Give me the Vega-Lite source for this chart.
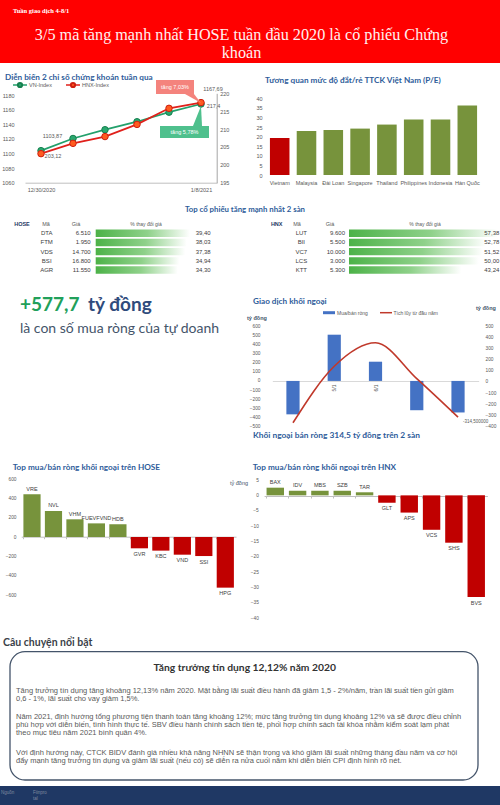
{
"$schema":"https://vega.github.io/schema/vega-lite/v6.json",
"width":500,"height":805,"padding":0,"autosize":"none","background":"#ffffff",
"config":{"font":"Liberation Sans","view":{"stroke":null},"axis":{"grid":false,"ticks":false,"domain":false,"labelFont":"Liberation Sans","labelFontSize":5.5,"labelColor":"#595959","labelPadding":2}},
"resolve":{"scale":{"x":"independent","y":"independent"},"axis":{"x":"independent","y":"independent"}},
"layer":[
{"data":{"values":[{"k":"header"}]},"mark":{"type":"rect","color":"#ff0000"},"encoding":{"x":{"value":0},"x2":{"value":500},"y":{"value":0},"y2":{"value":63}}},
{"data":{"values":[{"t":"Tuần giao dịch 4-8/1"}]},"mark":{"type":"text","align":"left","baseline":"middle","font":"Liberation Serif","fontWeight":"bold","fontSize":6.5,"color":"#ffffff"},"encoding":{"text":{"field":"t"},"x":{"value":13},"y":{"value":11}}},
{"data":{"values":[{"t":"3/5 mã tăng mạnh nhất HOSE tuần đầu 2020 là cổ phiếu Chứng\nkhoán"}]},"mark":{"type":"text","align":"center","baseline":"middle","lineBreak":"\n","lineHeight":18,"font":"Liberation Serif","fontSize":16.2,"color":"#fff0f0"},"encoding":{"text":{"field":"t"},"x":{"value":241.5},"y":{"value":34.5}}},

{"data":{"values":[{"t":"Diễn biến 2 chỉ số chứng khoán tuần qua"}]},"mark":{"type":"text","align":"left","baseline":"middle","font":"Lato","fontWeight":"bold","fontSize":8.2,"color":"#2e5c9a"},"encoding":{"text":{"field":"t"},"x":{"value":5},"y":{"value":78}}},
{"data":{"values":[{"s":"VN-Index"}]},"mark":{"type":"rule","color":"#23a06c","strokeWidth":1.5},"encoding":{"x":{"value":13},"x2":{"value":27},"y":{"value":85}}},
{"data":{"values":[{"s":"VN-Index"}]},"mark":{"type":"point","filled":true,"fill":"#2aa86f","stroke":"#17804f","size":18,"opacity":1},"encoding":{"x":{"value":20},"y":{"value":85}}},
{"data":{"values":[{"s":"VN-Index"}]},"mark":{"type":"text","align":"left","baseline":"middle","fontSize":5.5,"color":"#595959"},"encoding":{"text":{"field":"s"},"x":{"value":29},"y":{"value":85}}},
{"data":{"values":[{"s":"HNX-Index"}]},"mark":{"type":"rule","color":"#e0201b","strokeWidth":1.5},"encoding":{"x":{"value":66},"x2":{"value":80},"y":{"value":85}}},
{"data":{"values":[{"s":"HNX-Index"}]},"mark":{"type":"point","filled":true,"fill":"#ff5b1f","stroke":"#cf1f10","size":18,"opacity":1},"encoding":{"x":{"value":73},"y":{"value":85}}},
{"data":{"values":[{"s":"HNX-Index"}]},"mark":{"type":"text","align":"left","baseline":"middle","fontSize":5.5,"color":"#595959"},"encoding":{"text":{"field":"s"},"x":{"value":82},"y":{"value":85}}},

{"data":{"values":[
 {"d":"12/30/2020","vn":1103.87,"hnx":203.12,"vl":"1103,87","hl":"203,12"},
 {"d":"1/4/2021","vn":1120.5,"hnx":206.0},
 {"d":"1/5/2021","vn":1132.5,"hnx":207.9},
 {"d":"1/6/2021","vn":1143.4,"hnx":211.3},
 {"d":"1/7/2021","vn":1156.5,"hnx":215.8},
 {"d":"1/8/2021","vn":1167.69,"hnx":217.4,"vl":"1167,69","hl":"217,4"}]},
 "encoding":{"x":{"field":"d","type":"ordinal","sort":null,"scale":{"type":"point","range":[25,217],"padding":0.5},"axis":{"orient":"bottom","offset":-622.3,"values":["12/30/2020","1/8/2021"],"labelAngle":0,"domain":true,"domainColor":"#bfbfbf","labelPadding":5,"title":null}}},
 "resolve":{"scale":{"y":"independent"},"axis":{"y":"independent"}},
 "layer":[
  {"encoding":{"y":{"field":"vn","type":"quantitative","scale":{"domain":[1060,1180],"range":[182.7,95],"nice":false,"zero":false},"axis":{"orient":"left","offset":-16,"format":"d","values":[1060,1080,1100,1120,1140,1160,1180],"title":null}}},
   "layer":[
    {"mark":{"type":"line","color":"#23a06c","strokeWidth":1.8}},
    {"mark":{"type":"point","filled":true,"fill":"#2aa86f","stroke":"#17804f","strokeWidth":1,"size":42,"opacity":1}},
    {"transform":[{"filter":"datum.d==='12/30/2020'"}],"mark":{"type":"text","fontSize":5.5,"color":"#595959","dx":11.5,"dy":-15},"encoding":{"text":{"field":"vl"}}},
    {"transform":[{"filter":"datum.d==='1/8/2021'"}],"mark":{"type":"text","fontSize":5.5,"color":"#595959","dx":12,"dy":-14.5},"encoding":{"text":{"field":"vl"}}}
   ]},
  {"encoding":{"y":{"field":"hnx","type":"quantitative","scale":{"domain":[195,220],"range":[182.7,93.3],"nice":false,"zero":false},"axis":{"orient":"right","offset":-283.3,"values":[195,200,205,210,215,220],"domain":true,"domainColor":"#a6a6a6","labelPadding":3,"title":null}}},
   "layer":[
    {"mark":{"type":"line","color":"#e0201b","strokeWidth":1.8}},
    {"mark":{"type":"point","filled":true,"fill":"#ff5b1f","stroke":"#cf1f10","strokeWidth":1,"size":42,"opacity":1}},
    {"transform":[{"filter":"datum.d==='12/30/2020'"}],"mark":{"type":"text","fontSize":5.5,"color":"#595959","dx":12,"dy":2.5},"encoding":{"text":{"field":"hl"}}},
    {"transform":[{"filter":"datum.d==='1/8/2021'"}],"mark":{"type":"text","fontSize":5.5,"color":"#595959","dx":12.5,"dy":3},"encoding":{"text":{"field":"hl"}}}
   ]}
 ]},

{"data":{"values":[{"t":"tăng 7,03%"}]},"mark":{"type":"rect","color":"#f4837d"},"encoding":{"x":{"value":156},"x2":{"value":194},"y":{"value":80},"y2":{"value":94}}},
{"data":{"values":[{"t":"tăng 7,03%"}]},"mark":{"type":"point","shape":"M-1,-0.5625L0.125,-0.5625L1,0.5625Z","filled":true,"color":"#f4837d","opacity":1,"size":256},"encoding":{"x":{"value":193},"y":{"value":98.5}}},
{"data":{"values":[{"t":"tăng 7,03%"}]},"mark":{"type":"text","align":"center","baseline":"middle","fontSize":5.5,"color":"#ffffff"},"encoding":{"text":{"field":"t"},"x":{"value":175},"y":{"value":87}}},
{"data":{"values":[{"t":"tăng 5,78%"}]},"mark":{"type":"rect","color":"#4fc08d"},"encoding":{"x":{"value":160},"x2":{"value":209},"y":{"value":126},"y2":{"value":138}}},
{"data":{"values":[{"t":"tăng 5,78%"}]},"mark":{"type":"point","shape":"M-0.4,1L0.5,1L0.4,-1Z","filled":true,"color":"#4fc08d","opacity":1,"size":400},"encoding":{"x":{"value":197},"y":{"value":116}}},
{"data":{"values":[{"t":"tăng 5,78%"}]},"mark":{"type":"text","align":"center","baseline":"middle","fontSize":5.5,"color":"#ffffff"},"encoding":{"text":{"field":"t"},"x":{"value":184.5},"y":{"value":132}}},

{"data":{"values":[{"t":"Tương quan  mức độ đắt/rẻ TTCK Việt Nam (P/E)"}]},"mark":{"type":"text","align":"left","baseline":"middle","font":"Lato","fontWeight":"bold","fontSize":8.2,"color":"#2e5c9a"},"encoding":{"text":{"field":"t"},"x":{"value":265},"y":{"value":81}}},
{"data":{"values":[
 {"c":"Vietnam","pe":19.3},{"c":"Malaysia","pe":23.0},{"c":"Đài Loan","pe":23.5},{"c":"Singapore","pe":24.2},
 {"c":"Thailand","pe":26.3},{"c":"Philippines","pe":28.9},{"c":"Indonesia","pe":29.0},{"c":"Hàn Quốc","pe":36.2}]},
 "mark":{"type":"bar"},
 "encoding":{
  "x":{"field":"c","type":"nominal","sort":null,"scale":{"range":[266.3,480.7],"paddingInner":0.27,"paddingOuter":0.135},"axis":{"orient":"bottom","offset":-630,"labelPadding":5,"labelAngle":0,"labelOverlap":false,"title":null}},
  "y":{"field":"pe","type":"quantitative","scale":{"domain":[0,40],"range":[175,98.3],"nice":false},"axis":{"orient":"left","offset":-264,"values":[0,5,10,15,20,25,30,35,40],"title":null}},
  "color":{"condition":{"test":"datum.c==='Vietnam'","value":"#c00000"},"value":"#77933c"}}},

{"data":{"values":[{"t":"Top cổ phiếu tăng mạnh nhất 2 sàn"}]},"mark":{"type":"text","align":"center","baseline":"middle","font":"Lato","fontWeight":"bold","fontSize":7.8,"color":"#2e5c9a"},"encoding":{"text":{"field":"t"},"x":{"value":245},"y":{"value":209.5}}},
{"data":{"values":[{"t":"HOSE"}]},"mark":{"type":"text","align":"center","baseline":"middle","fontWeight":"bold","fontSize":5.5,"color":"#1f3864"},"encoding":{"text":{"field":"t"},"x":{"value":22},"y":{"value":224.3}}},
{"data":{"values":[{"t":"Mã"}]},"mark":{"type":"text","align":"center","baseline":"middle","fontSize":5.5,"color":"#595959"},"encoding":{"text":{"field":"t"},"x":{"value":46},"y":{"value":224.3}}},
{"data":{"values":[{"t":"Giá"}]},"mark":{"type":"text","align":"center","baseline":"middle","fontSize":5.5,"color":"#595959"},"encoding":{"text":{"field":"t"},"x":{"value":76},"y":{"value":224.3}}},
{"data":{"values":[{"t":"% thay đổi giá"}]},"mark":{"type":"text","align":"center","baseline":"middle","fontSize":5,"color":"#595959"},"encoding":{"text":{"field":"t"},"x":{"value":146},"y":{"value":224.3}}},
{"data":{"values":[
 {"ma":"DTA","gia":"6.510","pct":39.40,"lab":"39,40"},
 {"ma":"FTM","gia":"1.950","pct":38.03,"lab":"38,03"},
 {"ma":"VDS","gia":"14.700","pct":37.38,"lab":"37,38"},
 {"ma":"BSI","gia":"16.800","pct":34.94,"lab":"34,94"},
 {"ma":"AGR","gia":"11.550","pct":34.30,"lab":"34,30"}]},
 "encoding":{"y":{"field":"ma","type":"nominal","sort":null,"scale":{"range":[228.7,274.6],"paddingInner":0.2,"paddingOuter":0.1},"axis":null}},
 "layer":[
  {"mark":{"type":"bar","color":{"gradient":"linear","x1":0,"x2":1,"y1":0,"y2":0,"stops":[{"offset":0,"color":"#4cb248"},{"offset":0.55,"color":"#8fd18a"},{"offset":1,"color":"#ffffff"}]}},"encoding":{"x":{"field":"pct","type":"quantitative","scale":{"domain":[0,39.4],"range":[95.7,190],"nice":false},"axis":null}}},
  {"mark":{"type":"text","align":"center","baseline":"middle","fontSize":6,"color":"#404040"},"encoding":{"text":{"field":"ma"},"x":{"value":46.7}}},
  {"mark":{"type":"text","align":"right","baseline":"middle","fontSize":6,"color":"#404040"},"encoding":{"text":{"field":"gia"},"x":{"value":90.7}}},
  {"mark":{"type":"text","align":"right","baseline":"middle","fontSize":6,"color":"#404040"},"encoding":{"text":{"field":"lab"},"x":{"value":210.7}}}
 ]},
{"data":{"values":[{"t":"HNX"}]},"mark":{"type":"text","align":"center","baseline":"middle","fontWeight":"bold","fontSize":5.5,"color":"#1f3864"},"encoding":{"text":{"field":"t"},"x":{"value":276.7},"y":{"value":224.3}}},
{"data":{"values":[{"t":"Mã"}]},"mark":{"type":"text","align":"center","baseline":"middle","fontSize":5.5,"color":"#595959"},"encoding":{"text":{"field":"t"},"x":{"value":297},"y":{"value":224.3}}},
{"data":{"values":[{"t":"Giá"}]},"mark":{"type":"text","align":"center","baseline":"middle","fontSize":5.5,"color":"#595959"},"encoding":{"text":{"field":"t"},"x":{"value":330},"y":{"value":224.3}}},
{"data":{"values":[{"t":"% thay đổi giá"}]},"mark":{"type":"text","align":"center","baseline":"middle","fontSize":5,"color":"#595959"},"encoding":{"text":{"field":"t"},"x":{"value":425},"y":{"value":224.3}}},
{"data":{"values":[
 {"ma":"LUT","gia":"9.600","pct":57.38,"lab":"57,38"},
 {"ma":"BII","gia":"5.500","pct":52.78,"lab":"52,78"},
 {"ma":"VC7","gia":"10.000","pct":51.52,"lab":"51,52"},
 {"ma":"LCS","gia":"3.000","pct":50.00,"lab":"50,00"},
 {"ma":"KTT","gia":"5.300","pct":43.24,"lab":"43,24"}]},
 "encoding":{"y":{"field":"ma","type":"nominal","sort":null,"scale":{"range":[228.7,274.6],"paddingInner":0.2,"paddingOuter":0.1},"axis":null}},
 "layer":[
  {"mark":{"type":"bar","color":{"gradient":"linear","x1":0,"x2":1,"y1":0,"y2":0,"stops":[{"offset":0,"color":"#4cb248"},{"offset":0.55,"color":"#8fd18a"},{"offset":1,"color":"#ffffff"}]}},"encoding":{"x":{"field":"pct","type":"quantitative","scale":{"domain":[0,57.38],"range":[349,498],"nice":false},"axis":null}}},
  {"mark":{"type":"text","align":"center","baseline":"middle","fontSize":6,"color":"#404040"},"encoding":{"text":{"field":"ma"},"x":{"value":301.3}}},
  {"mark":{"type":"text","align":"right","baseline":"middle","fontSize":6,"color":"#404040"},"encoding":{"text":{"field":"gia"},"x":{"value":345}}},
  {"mark":{"type":"text","align":"right","baseline":"middle","fontSize":6,"color":"#404040"},"encoding":{"text":{"field":"lab"},"x":{"value":499.3}}}
 ]},

{"data":{"values":[{"t":"+577,7"}]},"mark":{"type":"text","align":"left","baseline":"middle","font":"Lato","fontWeight":"bold","fontSize":19,"color":"#21a05a"},"encoding":{"text":{"field":"t"},"x":{"value":20},"y":{"value":305}}},
{"data":{"values":[{"t":"tỷ đồng"}]},"mark":{"type":"text","align":"left","baseline":"middle","font":"Lato","fontWeight":"bold","fontSize":19,"color":"#2f4b7c"},"encoding":{"text":{"field":"t"},"x":{"value":88},"y":{"value":305}}},
{"data":{"values":[{"t":"là con số mua ròng của tự doanh"}]},"mark":{"type":"text","align":"left","baseline":"middle","font":"Lato","fontSize":14,"color":"#44546a"},"encoding":{"text":{"field":"t"},"x":{"value":20},"y":{"value":329}}},

{"data":{"values":[{"t":"Giao dịch khối ngoại"}]},"mark":{"type":"text","align":"left","baseline":"middle","font":"Lato","fontWeight":"bold","fontSize":8.2,"color":"#2e5c9a"},"encoding":{"text":{"field":"t"},"x":{"value":253},"y":{"value":301.7}}},
{"data":{"values":[{"s":"Mua/bán ròng"}]},"mark":{"type":"rect","color":"#4472c4"},"encoding":{"x":{"value":323},"x2":{"value":335},"y":{"value":311.2},"y2":{"value":314.2}}},
{"data":{"values":[{"s":"Mua/bán ròng"}]},"mark":{"type":"text","align":"left","baseline":"middle","fontSize":5,"color":"#595959"},"encoding":{"text":{"field":"s"},"x":{"value":337},"y":{"value":312.7}}},
{"data":{"values":[{"s":"Tích lũy từ đầu năm"}]},"mark":{"type":"rule","color":"#c0392b","strokeWidth":1.5},"encoding":{"x":{"value":380},"x2":{"value":392},"y":{"value":312.7}}},
{"data":{"values":[{"s":"Tích lũy từ đầu năm"}]},"mark":{"type":"text","align":"left","baseline":"middle","fontSize":5,"color":"#595959"},"encoding":{"text":{"field":"s"},"x":{"value":393.5},"y":{"value":312.7}}},
{"data":{"values":[{"t":"tỷ đồng"}]},"mark":{"type":"text","align":"left","baseline":"middle","fontWeight":"bold","fontSize":5.5,"color":"#44546a"},"encoding":{"text":{"field":"t"},"x":{"value":247},"y":{"value":317.7}}},
{"data":{"values":[{"t":"tỷ đồng"}]},"mark":{"type":"text","align":"left","baseline":"middle","fontWeight":"bold","fontSize":5.5,"color":"#44546a"},"encoding":{"text":{"field":"t"},"x":{"value":476},"y":{"value":308.3}}},
{"data":{"values":[
 {"d":"4/1","net":-365,"cum":-365},
 {"d":"5/1","net":505,"cum":140},
 {"d":"6/1","net":210,"cum":350},
 {"d":"7/1","net":-320,"cum":30},
 {"d":"8/1","net":-344.5,"cum":-314.5,"lab":"-314,500000"}]},
 "encoding":{"x":{"field":"d","type":"nominal","sort":null,"scale":{"range":[272.35,478.65],"paddingInner":0.68,"paddingOuter":0.34},"axis":{"orient":"bottom","offset":-424,"labelAngle":-90,"domain":true,"domainColor":"#d9d9d9","labelPadding":3,"labelFontSize":5,"title":null}}},
 "resolve":{"scale":{"y":"independent"},"axis":{"y":"independent"}},
 "layer":[
  {"mark":{"type":"bar","color":"#4472c4"},"encoding":{"y":{"field":"net","type":"quantitative","scale":{"domain":[-500,600],"range":[426.7,326],"nice":false},"axis":{"orient":"left","offset":-261,"values":[-500,-400,-300,-200,-100,0,100,200,300,400,500,600],"labelFontSize":4.8,"labelPadding":1,"title":null}}}},
  {"encoding":{"y":{"field":"cum","type":"quantitative","scale":{"domain":[-400,500],"range":[426.7,326],"nice":false,"zero":false},"axis":{"orient":"right","offset":-17,"values":[-400,-300,-200,-100,0,100,200,300,400,500],"labelFontSize":4.8,"labelPadding":2,"title":null}}},
   "layer":[
    {"mark":{"type":"line","color":"#c0392b","strokeWidth":1.6,"interpolate":"monotone"}},
    {"transform":[{"filter":"datum.lab"}],"mark":{"type":"text","align":"left","baseline":"middle","dx":5,"dy":4.5,"fontSize":4.5,"color":"#595959"},"encoding":{"text":{"field":"lab"}}}
   ]}
 ]},
{"data":{"values":[{"t":"Khối ngoại bán ròng 314,5 tỷ đồng trên 2 sàn"}]},"mark":{"type":"text","align":"left","baseline":"middle","font":"Lato","fontWeight":"bold","fontSize":8.4,"color":"#2e5c9a"},"encoding":{"text":{"field":"t"},"x":{"value":253},"y":{"value":435}}},

{"data":{"values":[{"t":"Top mua/bán ròng khối ngoại trên HOSE"}]},"mark":{"type":"text","align":"left","baseline":"middle","font":"Lato","fontWeight":"bold","fontSize":8.2,"color":"#2e5c9a"},"encoding":{"text":{"field":"t"},"x":{"value":12.7},"y":{"value":467.7}}},
{"data":{"values":[
 {"m":"VRE","v":441},{"m":"NVL","v":269},{"m":"VHM","v":183},{"m":"FUEVFVND","v":141},{"m":"HDB","v":131},
 {"m":"GVR","v":-117},{"m":"KBC","v":-141},{"m":"VND","v":-183},{"m":"SSI","v":-197},{"m":"HPG","v":-524}]},
 "encoding":{
  "x":{"field":"m","type":"nominal","sort":null,"scale":{"range":[21.26,236.04],"paddingInner":0.2,"paddingOuter":0.1},"axis":{"orient":"bottom","offset":-268.3,"labels":false,"domain":true,"domainColor":"#bfbfbf","ticks":true,"tickColor":"#bfbfbf","tickSize":2,"bandPosition":0,"title":null}},
  "y":{"field":"v","type":"quantitative","scale":{"domain":[-600,600],"range":[595,479],"nice":false},"axis":{"orient":"left","offset":-17,"values":[-600,-400,-200,0,200,400,600],"labelFontSize":4.8,"labelPadding":1,"title":null}}},
 "layer":[
  {"mark":{"type":"bar"},"encoding":{"color":{"condition":{"test":"datum.v>0","value":"#77933c"},"value":"#c00000"}}},
  {"transform":[{"filter":"datum.v>0"}],"mark":{"type":"text","baseline":"bottom","dy":-2.5,"fontSize":5.5,"color":"#404040"},"encoding":{"text":{"field":"m"}}},
  {"transform":[{"filter":"datum.v<0"}],"mark":{"type":"text","baseline":"top","dy":3.5,"fontSize":5.5,"color":"#404040"},"encoding":{"text":{"field":"m"}}}
 ]},
{"data":{"values":[{"t":"tỷ đồng"}]},"mark":{"type":"text","align":"left","baseline":"middle","fontSize":5.5,"color":"#44546a"},"encoding":{"text":{"field":"t"},"x":{"value":230},"y":{"value":483.3}}},
{"data":{"values":[{"t":"Top mua/bán ròng khối ngoại trên HNX"}]},"mark":{"type":"text","align":"left","baseline":"middle","font":"Lato","fontWeight":"bold","fontSize":8.2,"color":"#2e5c9a"},"encoding":{"text":{"field":"t"},"x":{"value":252.7},"y":{"value":467.7}}},
{"data":{"values":[
 {"m":"BAX","v":2.5},{"m":"IDV","v":1.5},{"m":"MBS","v":1.5},{"m":"SZB","v":1.5},{"m":"TAR","v":1.0},
 {"m":"GLT","v":-2.4},{"m":"APS","v":-5.6},{"m":"VCS","v":-11.2},{"m":"SHS","v":-15.4},{"m":"BVS","v":-33.1}]},
 "encoding":{
  "x":{"field":"m","type":"nominal","sort":null,"scale":{"range":[264.1,487.4],"paddingInner":0.22,"paddingOuter":0.11},"axis":{"orient":"bottom","offset":-309,"labels":false,"domain":true,"domainColor":"#bfbfbf","ticks":true,"tickColor":"#bfbfbf","tickSize":2,"bandPosition":0,"title":null}},
  "y":{"field":"v","type":"quantitative","scale":{"domain":[-40,5],"range":[618.3,480],"nice":false},"axis":{"orient":"left","offset":-260,"values":[-40,-35,-30,-25,-20,-15,-10,-5,0,5],"labelFontSize":4.8,"labelPadding":1.7,"title":null}}},
 "layer":[
  {"mark":{"type":"bar"},"encoding":{"color":{"condition":{"test":"datum.v>0","value":"#77933c"},"value":"#c00000"}}},
  {"transform":[{"filter":"datum.v>0"}],"mark":{"type":"text","baseline":"bottom","dy":-2.5,"fontSize":5.5,"color":"#404040"},"encoding":{"text":{"field":"m"}}},
  {"transform":[{"filter":"datum.v<0"}],"mark":{"type":"text","baseline":"top","dy":3.5,"fontSize":5.5,"color":"#404040"},"encoding":{"text":{"field":"m"}}}
 ]},

{"data":{"values":[{"t":"Câu chuyện nổi bật"}]},"mark":{"type":"text","align":"left","baseline":"middle","font":"Lato","fontWeight":"bold","fontSize":10.5,"color":"#3a3f48"},"encoding":{"text":{"field":"t"},"x":{"value":3},"y":{"value":642.7}}},
{"data":{"values":[{"k":"box"}]},"mark":{"type":"rect","fill":"#ffffff","stroke":"#44546a","strokeWidth":1.3,"cornerRadius":15},"encoding":{"x":{"value":10},"x2":{"value":478},"y":{"value":651.7},"y2":{"value":780}}},
{"data":{"values":[{"t":"Tăng trưởng tín dụng 12,12% năm 2020"}]},"mark":{"type":"text","align":"center","baseline":"middle","font":"Lato","fontWeight":"bold","fontSize":10.3,"color":"#333333"},"encoding":{"text":{"field":"t"},"x":{"value":244.7},"y":{"value":668.3}}},
{"data":{"values":[{"t":"Tăng trưởng tín dụng tăng khoảng 12,13% năm 2020. Mặt bằng lãi suất điều hành đã giảm 1,5 - 2%/năm, trần lãi suất tiền gửi giảm\n0,6 - 1%, lãi suất cho vay giảm 1,5%."}]},"mark":{"type":"text","align":"left","baseline":"alphabetic","lineBreak":"\n","lineHeight":8.5,"fontSize":7.5,"color":"#595959"},"encoding":{"text":{"field":"t"},"x":{"value":16},"y":{"value":692.5}}},
{"data":{"values":[{"t":"Năm 2021, định hướng tổng phương tiện thanh toán tăng khoảng 12%; mức tăng trưởng tín dụng khoảng 12% và sẽ được điều chỉnh\nphù hợp với diễn biến, tình hình thực tế. SBV điều hành chính sách tiền tệ, phối hợp chính sách tài khóa nhằm kiểm soát lạm phát\ntheo mục tiêu năm 2021 bình quân 4%."}]},"mark":{"type":"text","align":"left","baseline":"alphabetic","lineBreak":"\n","lineHeight":8.3,"fontSize":7.5,"color":"#595959"},"encoding":{"text":{"field":"t"},"x":{"value":16},"y":{"value":718.5}}},
{"data":{"values":[{"t":"Với định hướng này, CTCK BIDV đánh giá nhiều khả năng NHNN sẽ thận trọng và khó giảm lãi suất những tháng đầu năm và cơ hội\nđẩy mạnh tăng trưởng tín dụng và giảm lãi suất (nếu có) sẽ diễn ra nửa cuối năm khi diễn biến CPI định hình rõ nét."}]},"mark":{"type":"text","align":"left","baseline":"alphabetic","lineBreak":"\n","lineHeight":8.5,"fontSize":7.5,"color":"#595959"},"encoding":{"text":{"field":"t"},"x":{"value":16},"y":{"value":754.5}}},

{"data":{"values":[{"k":"footer"}]},"mark":{"type":"rect","color":"#1f3864"},"encoding":{"x":{"value":0},"x2":{"value":500},"y":{"value":786},"y2":{"value":805}}},
{"data":{"values":[{"t":"Nguồn"}]},"mark":{"type":"text","align":"left","baseline":"middle","fontSize":4.5,"color":"#7f8aa0"},"encoding":{"text":{"field":"t"},"x":{"value":1},"y":{"value":792.5}}},
{"data":{"values":[{"t":"Fiinpro\ntal"}]},"mark":{"type":"text","align":"left","baseline":"alphabetic","lineBreak":"\n","lineHeight":6,"fontSize":4.5,"color":"#7f8aa0"},"encoding":{"text":{"field":"t"},"x":{"value":33},"y":{"value":793.5}}}
]
}
